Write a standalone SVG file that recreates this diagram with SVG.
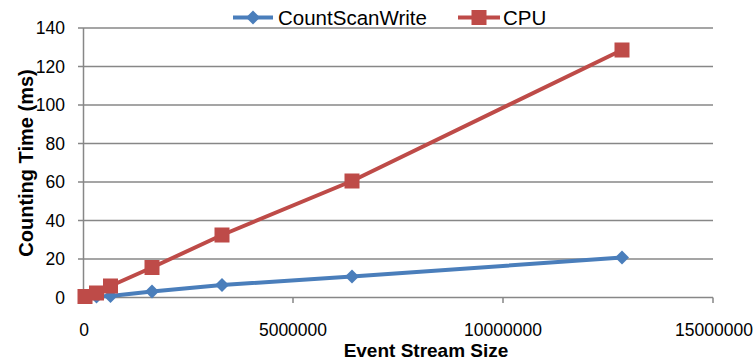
<svg xmlns="http://www.w3.org/2000/svg" width="754" height="360" viewBox="0 0 754 360">
<style>
.grid{stroke:#878787;stroke-width:1.5;fill:none}
.axis{stroke:#878787;stroke-width:1.5;fill:none}
.lbl{font-family:"Liberation Sans",Arial,sans-serif;font-size:17.5px;fill:#000}
.title{font-family:"Liberation Sans",Arial,sans-serif;font-weight:bold;font-size:19px;fill:#000}
.leg{font-family:"Liberation Sans",Arial,sans-serif;font-size:20.5px;fill:#000}
.blue{stroke:#4A7EBB;stroke-width:4;fill:none;stroke-linejoin:round}
.red{stroke:#BE4B48;stroke-width:4;fill:none;stroke-linejoin:round}
</style>
<defs>
<path id="dia" d="M0,-7 L7,0 L0,7 L-7,0 Z" fill="#4A7EBB"/>
<rect id="sq" x="-7.5" y="-7.5" width="15" height="15" fill="#BE4B48"/>
</defs>
<rect width="754" height="360" fill="#fff"/>
<g id="gridlines">
<line class="grid" x1="83" y1="28" x2="713" y2="28"/>
<line class="grid" x1="83" y1="66.5" x2="713" y2="66.5"/>
<line class="grid" x1="83" y1="105" x2="713" y2="105"/>
<line class="grid" x1="83" y1="143.5" x2="713" y2="143.5"/>
<line class="grid" x1="83" y1="182" x2="713" y2="182"/>
<line class="grid" x1="83" y1="220.5" x2="713" y2="220.5"/>
<line class="grid" x1="83" y1="259" x2="713" y2="259"/>
</g>
<g id="axes">
<path class="axis" d="M83.5,28 V297.5 M78,28 H83 M78,66.5 H83 M78,105 H83 M78,143.5 H83 M78,182 H83 M78,220.5 H83 M78,259 H83 M78,297.5 H83"/>
<path class="axis" d="M83,297.5 H713 M83.5,297.5 V303 M293,297.5 V303 M503,297.5 V303 M713,297.5 V303"/>
</g>
<g id="ylabels" class="lbl" text-anchor="end">
<text x="65" y="34">140</text>
<text x="65" y="72.5">120</text>
<text x="65" y="111">100</text>
<text x="65" y="149.5">80</text>
<text x="65" y="188">60</text>
<text x="65" y="226.5">40</text>
<text x="65" y="265">20</text>
<text x="65" y="303.5">0</text>
</g>
<g id="xlabels" class="lbl" text-anchor="middle">
<text x="84" y="336">0</text>
<text x="293" y="336">5000000</text>
<text x="503" y="336">10000000</text>
<text x="714" y="336">15000000</text>
</g>
<text class="title" x="426" y="357" text-anchor="middle">Event Stream Size</text>
<text class="title" transform="translate(33,163) rotate(-90)" text-anchor="middle" style="font-size:20px">Counting Time (ms)</text>
<g id="series-countscanwrite">
<polyline class="blue" points="85,297 96.5,296.5 110.5,296 152,291.5 222,285 352,276.5 622,257.5"/>
<use href="#dia" x="85" y="297"/>
<use href="#dia" x="96.5" y="296.5"/>
<use href="#dia" x="110.5" y="296"/>
<use href="#dia" x="152" y="291.5"/>
<use href="#dia" x="222" y="285"/>
<use href="#dia" x="352" y="276.5"/>
<use href="#dia" x="622" y="257.5"/>
</g>
<g id="series-cpu">
<polyline class="red" points="85,296.5 96.5,293 110.5,286 152,267.5 222,235 352,181 622,50"/>
<use href="#sq" x="85" y="296.5"/>
<use href="#sq" x="96.5" y="293"/>
<use href="#sq" x="110.5" y="286"/>
<use href="#sq" x="152" y="267.5"/>
<use href="#sq" x="222" y="235"/>
<use href="#sq" x="352" y="181"/>
<use href="#sq" x="622" y="50"/>
</g>
<g id="legend">
<line class="blue" x1="233" y1="17.5" x2="273" y2="17.5"/>
<use href="#dia" x="253" y="17.5"/>
<text class="leg" x="278" y="25">CountScanWrite</text>
<line class="red" x1="458" y1="17.5" x2="500" y2="17.5"/>
<use href="#sq" x="479" y="17.5"/>
<text class="leg" x="503" y="25">CPU</text>
</g>
</svg>
